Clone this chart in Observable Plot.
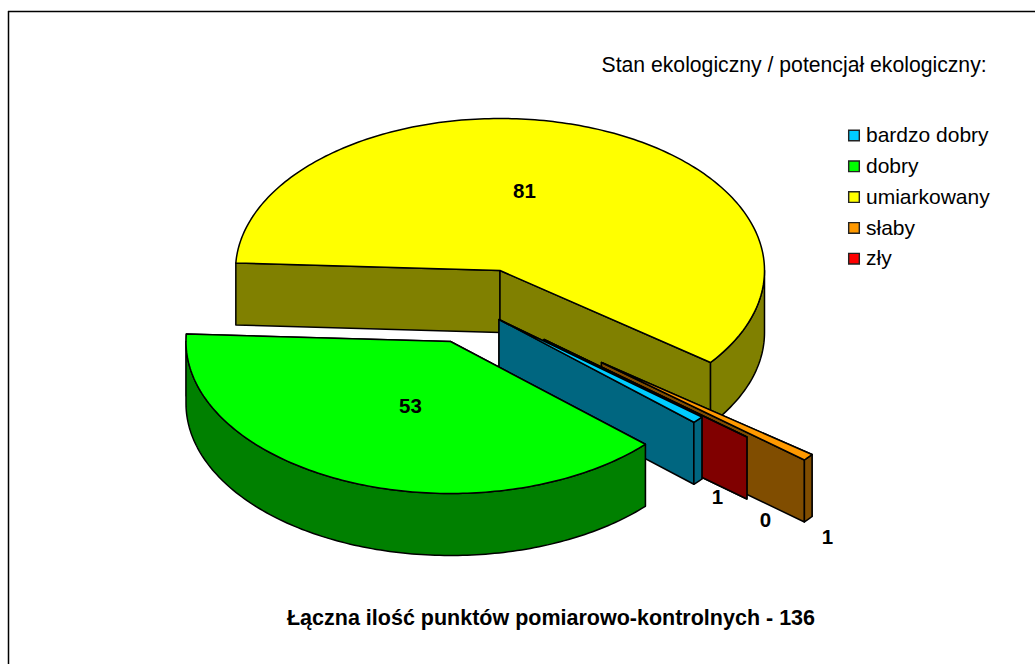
<!DOCTYPE html>
<html>
<head>
<meta charset="utf-8">
<script src="https://cdn.jsdelivr.net/npm/d3@7"></script>
<script src="https://cdn.jsdelivr.net/npm/@observablehq/plot@0.6"></script>
<style>html,body{margin:0;padding:0;background:#fff;overflow:hidden}svg{display:block}</style>
</head>
<body>
<div id="chart"></div>
<script>
// Data: clockwise pie order
const categories = ["bardzo dobry", "dobry", "umiarkowany", "słaby", "zły"];
const values = [1, 53, 81, 1, 0];
const total = 136;
const legendTitle = "Stan ekologiczny / potencjał ekologiczny:";
const caption = "Łączna ilość punktów pomiarowo-kontrolnych - " + total;

// Styles
const topColors = ["#00CCFF", "#00FF00", "#FFFF00", "#FF9900", "#FF0000"];
const sideColors = ["#006680", "#008000", "#808000", "#804D00", "#800000"];

// Pie layout
const W = 1035, H = 664;
const rx = 264.5, ry = 152, depth = 62;
const firstAngle = 320.1;                 // angle where "bardzo dobry" starts (deg, counter-clockwise from east)
const sliceCentres = [[498.5, 319], [450, 341], [499.5, 270], [601, 362], [543.5, 339]]; // exploded centres
const labelAt = [[717, 497], [410, 406], [524, 191], [827, 537], [765, 520]];
const drawOrder = [2, 3, 4, 0, 1];        // painter's order, back to front

const rad = d => d * Math.PI / 180;
const sum = d3.sum(values);
let acc = 0;
const slices = values.map((v, i) => {
  const a0 = firstAngle - acc * 360 / sum;     // clockwise start
  acc += v;
  const a1 = firstAngle - acc * 360 / sum;     // clockwise end
  const c = {x: sliceCentres[i][0], y: sliceCentres[i][1]};
  return {i, a0, a1, c};
});

const rim = (c, a, dz = 0) => ({
  x: c.x + rx * Math.cos(rad(a)),
  y: c.y - ry * Math.sin(rad(a)) + dz
});

function arc(c, from, to, dz = 0) {
  const n = Math.max(2, Math.ceil(Math.abs(to - from)));
  return d3.range(n + 1).map(k => rim(c, from + (to - from) * k / n, dz));
}

const closed = pts => [...pts, pts[0]];

function facesOf(s) {
  const {c, a0, a1, i} = s;
  const side = sideColors[i], top = topColors[i];
  const lower = {x: c.x, y: c.y + depth};
  const faces = [];
  // cut faces: the far one (a0) first, then the near one (a1)
  [a0, a1].forEach(a => {
    const p = rim(c, a), q = rim(c, a, depth);
    faces.push({fill: side, pts: closed([c, p, q, lower])});
  });
  // outer wall: only the part on the lower half of the ellipse faces the viewer
  for (const base of [-360, 0]) {
    const lo = Math.max(a1, base + 180), hi = Math.min(a0, base + 360);
    if (hi > lo) faces.push({fill: side, pts: closed([...arc(c, lo, hi), ...arc(c, hi, lo, depth)])});
  }
  // top face
  faces.push({fill: top, pts: a0 === a1 ? closed([c, rim(c, a0)]) : closed([c, ...arc(c, a0, a1)])});
  return faces;
}

const faces = drawOrder.flatMap(i => facesOf(slices[i]));
const faceMarks = faces.map(f => Plot.line(f.pts, {
  x: "x", y: "y", fill: f.fill, stroke: "#000", strokeWidth: 1.5, strokeLinejoin: "round"
}));

const valueLabels = values.map((v, i) => ({text: String(v), x: labelAt[i][0], y: labelAt[i][1]}));

const legendX = 853.5, legendY0 = 135, legendStep = 30.8;
const legend = categories.map((name, i) => ({
  name, color: topColors[i], x: legendX, y: legendY0 + i * legendStep
}));

const font = "'Liberation Sans', Arial, sans-serif";

const chart = Plot.plot({
  width: W, height: H,
  margin: 0,
  style: {background: "#fff"},
  x: {domain: [0, W], range: [0, W], axis: null},
  y: {domain: [0, H], range: [0, H], axis: null},
  marks: [
    Plot.ruleX([8], {y1: 11, y2: H, stroke: "#000", strokeWidth: 1.5}),
    Plot.ruleY([11], {x1: 8, x2: W, stroke: "#000", strokeWidth: 1.5}),
    ...faceMarks,
    Plot.text(valueLabels, {
      x: "x", y: "y", text: "text", fontFamily: font, fontSize: 20.5, fontWeight: "bold", fill: "#000"
    }),
    Plot.text([legendTitle], {
      x: () => 601, y: () => 65, text: d => d, textAnchor: "start",
      fontFamily: font, fontSize: 21.2, fill: "#000"
    }),
    Plot.dot(legend, {
      x: "x", y: "y", fill: "color", symbol: "square", r: 6, stroke: "#222", strokeWidth: 1.4
    }),
    Plot.text(legend, {
      x: d => d.x + 12, y: "y", text: "name", textAnchor: "start",
      fontFamily: font, fontSize: 21, fill: "#000"
    }),
    Plot.text([caption], {
      x: () => 550.5, y: () => 618, text: d => d, textAnchor: "middle",
      fontFamily: font, fontSize: 21.5, fontWeight: "bold", fill: "#000"
    })
  ]
});
document.getElementById("chart").appendChild(chart);
</script>
</body>
</html>
